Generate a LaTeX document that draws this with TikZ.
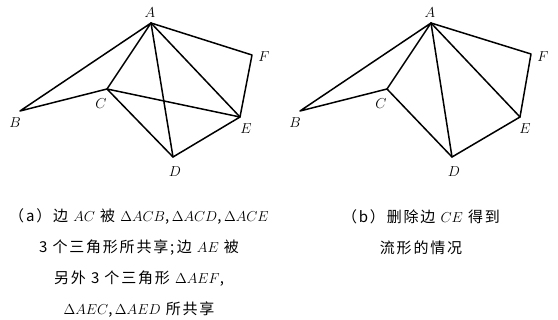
\documentclass[tikz,border=0pt]{standalone}
\usepackage{fontspec}
\newfontfamily\cjk[LetterSpace=12]{Noto Sans CJK SC}
\usetikzlibrary{positioning}
\tikzset{
  edge/.style={line width=1.5pt, line join=round, line cap=round},
  vlabel/.style={font=\fontsize{15}{15}\selectfont, inner sep=0pt},
  caption/.style={font=\cjk\fontsize{15}{31}\selectfont, inner sep=0pt, align=center},
}

\begin{document}
\begin{tikzpicture}[x=1pt, y=-1pt]
  \useasboundingbox (0,0) rectangle (558,320);

  % ---- (a) all triangles ---------------------------------------------------
  \begin{scope}[name prefix=a-]
    \coordinate (A) at (151,23);
    \coordinate (B) at (20,111);
    \coordinate (C) at (107,89);
    \coordinate (D) at (173,157);
    \coordinate (E) at (240,117);
    \coordinate (F) at (252,55);

    \node[vlabel] (lA) at (150,13)  {$A$};
    \node[vlabel] (lB) at (15,123)  {$B$};
    \node[vlabel] (lC) at (101,104) {$C$};
    \node[vlabel] (lD) at (175,172) {$D$};
    \node[vlabel] (lE) at (246,129) {$E$};
    \node[vlabel] (lF) at (264,57)  {$F$};

    \draw[edge] (A) -- (B) -- (C) -- (A);
    \draw[edge] (A) -- (D);
    \draw[edge] (A) -- (E);
    \draw[edge] (A) -- (F) -- (E) -- (D) -- (C) -- (E);
  \end{scope}

  % ---- (b) without CE ----------------------------------------------------
  \begin{scope}[name prefix=b-]
    \coordinate (A) at (431,23);
    \coordinate (B) at (300,111);
    \coordinate (C) at (387,89);
    \coordinate (D) at (452,157);
    \coordinate (E) at (520,117);
    \coordinate (F) at (531,54);

    \node[vlabel] (lA) at (430,13)  {$A$};
    \node[vlabel] (lB) at (295,123) {$B$};
    \node[vlabel] (lC) at (381,104) {$C$};
    \node[vlabel] (lD) at (454,172) {$D$};
    \node[vlabel] (lE) at (525,129) {$E$};
    \node[vlabel] (lF) at (543,57)  {$F$};

    \draw[edge] (A) -- (B) -- (C) -- (A);
    \draw[edge] (A) -- (D);
    \draw[edge] (A) -- (E);
    \draw[edge] (A) -- (F) -- (E) -- (D) -- (C);
  \end{scope}

  % ---- captions ------------------------------------------------------------
  \node[caption] (capa) at (139,263) {（a）边 $AC$ 被 $\Delta ACB$,\,$\Delta ACD$,\,$\Delta ACE$\\
    3 个三角形所共享;\,边 $AE$ 被\\
    另外 3 个三角形 $\Delta AEF$,\\
    $\Delta AEC$,\,$\Delta AED$ 所共享};
  \node[caption] (capb) at (421,232) {（b）删除边 $CE$ 得到\\
    流形的情况};
\end{tikzpicture}
\end{document}
